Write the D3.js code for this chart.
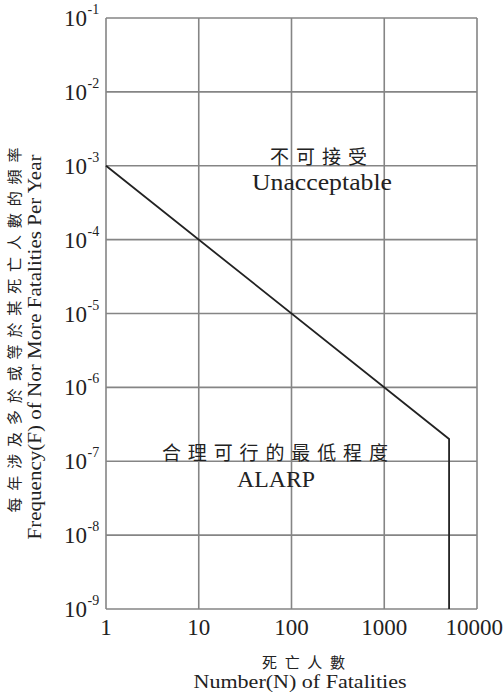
<!DOCTYPE html>
<html><head><meta charset="utf-8">
<script src="https://cdn.jsdelivr.net/npm/d3@7"></script>
<style>
html,body{margin:0;padding:0;background:#fff;}
svg text{fill:#222;}
</style></head>
<body>
<svg id="chart" width="504" height="696"></svg>
<script>
// Data
const xTicks = [1, 10, 100, 1000, 10000];
const xTickLabels = ["1", "10", "100", "1000", "10000"];
const yExponents = [-1, -2, -3, -4, -5, -6, -7, -8, -9];
const fnN = [1, 5000, 5000];
const fnF = [1e-3, 2e-7, 1e-9];
const regionLabelsZh = ["不可接受", "合理可行的最低程度"];
const regionLabelsEn = ["Unacceptable", "ALARP"];
const xTitleZh = "死亡人數";
const xTitleEn = "Number(N) of Fatalities";
const yTitleZh = "每年涉及多於或等於某死亡人數的頻率";
const yTitleEn = "Frequency(F) of Nor More Fatalities Per Year";

const svg = d3.select("#chart");
const L = 106, R = 477, T = 18, B = 609;
const serif = "'Liberation Serif','Times New Roman',serif";
const cjk = "'Noto Sans CJK TC','Noto Sans CJK SC',sans-serif";

const x = d3.scaleLog().domain([1, 10000]).range([L, R]);
const y = d3.scaleLog().domain([1e-9, 1e-1]).range([B, T]);

const grid = svg.append("g");
grid.selectAll("line.v").data(xTicks).join("line")
  .attr("x1", d => x(d)).attr("x2", d => x(d)).attr("y1", T).attr("y2", B)
  .attr("stroke", "#858585").attr("stroke-width", 1.6);
grid.selectAll("line.h").data(yExponents).join("line")
  .attr("x1", L).attr("x2", R).attr("y1", d => y(Math.pow(10, d))).attr("y2", d => y(Math.pow(10, d)))
  .attr("stroke", "#858585").attr("stroke-width", 1.6);

// x tick labels (last one kept inside the window)
svg.append("g").selectAll("text").data(xTicks).join("text")
  .attr("x", (d, i) => i === xTicks.length - 1 ? 503 : x(d))
  .attr("y", 635)
  .attr("text-anchor", (d, i) => i === xTicks.length - 1 ? "end" : "middle")
  .attr("font-family", serif).attr("font-size", 23)
  .text((d, i) => xTickLabels[i]);

// y tick labels
svg.append("g").selectAll("text").data(yExponents).join("text")
  .attr("x", 87).attr("y", d => y(Math.pow(10, d)) + 8).attr("text-anchor", "end")
  .attr("font-family", serif).attr("font-size", 23)
  .text("10");
svg.append("g").selectAll("text").data(yExponents).join("text")
  .attr("x", 87.5).attr("y", d => y(Math.pow(10, d)) - 4)
  .attr("font-family", serif).attr("font-size", 14)
  .text(d => String(d));

// F-N line
const pts = fnN.map((n, i) => [n, fnF[i]]);
svg.append("path")
  .attr("d", d3.line().x(d => x(d[0])).y(d => y(d[1]))(pts))
  .attr("fill", "none").attr("stroke", "#222").attr("stroke-width", 1.8);

// region labels
const zhCx = [318.5, 275], zhCy = [164, 460], zhLen = [97, 226];
regionLabelsZh.forEach((t, i) => {
  svg.append("text").attr("x", zhCx[i]).attr("y", zhCy[i]).attr("text-anchor", "middle")
    .attr("font-family", cjk).attr("font-size", 19)
    .attr("textLength", zhLen[i]).attr("lengthAdjust", "spacing")
    .text(t);
});
const enCx = [322, 276], enCy = [190, 487], enLen = [140, 78];
regionLabelsEn.forEach((t, i) => {
  svg.append("text").attr("x", enCx[i]).attr("y", enCy[i]).attr("text-anchor", "middle")
    .attr("font-family", serif).attr("font-size", 23)
    .attr("textLength", enLen[i]).attr("lengthAdjust", "spacingAndGlyphs")
    .text(t);
});

// axis titles
svg.append("text").attr("x", 303.5).attr("y", 668).attr("text-anchor", "middle")
  .attr("font-family", cjk).attr("font-size", 15)
  .attr("textLength", 83).attr("lengthAdjust", "spacing")
  .text(xTitleZh);
svg.append("text").attr("x", 300).attr("y", 688).attr("text-anchor", "middle")
  .attr("font-family", serif).attr("font-size", 19)
  .attr("textLength", 213).attr("lengthAdjust", "spacingAndGlyphs")
  .text(xTitleEn);

svg.append("text").attr("transform", "translate(20,330) rotate(-90)")
  .attr("text-anchor", "middle").attr("font-family", cjk).attr("font-size", 15)
  .attr("textLength", 365).attr("lengthAdjust", "spacing")
  .text(yTitleZh);
svg.append("text").attr("transform", "translate(41,347) rotate(-90)")
  .attr("text-anchor", "middle").attr("font-family", serif).attr("font-size", 19)
  .attr("textLength", 385).attr("lengthAdjust", "spacingAndGlyphs")
  .text(yTitleEn);
</script>
</body></html>
